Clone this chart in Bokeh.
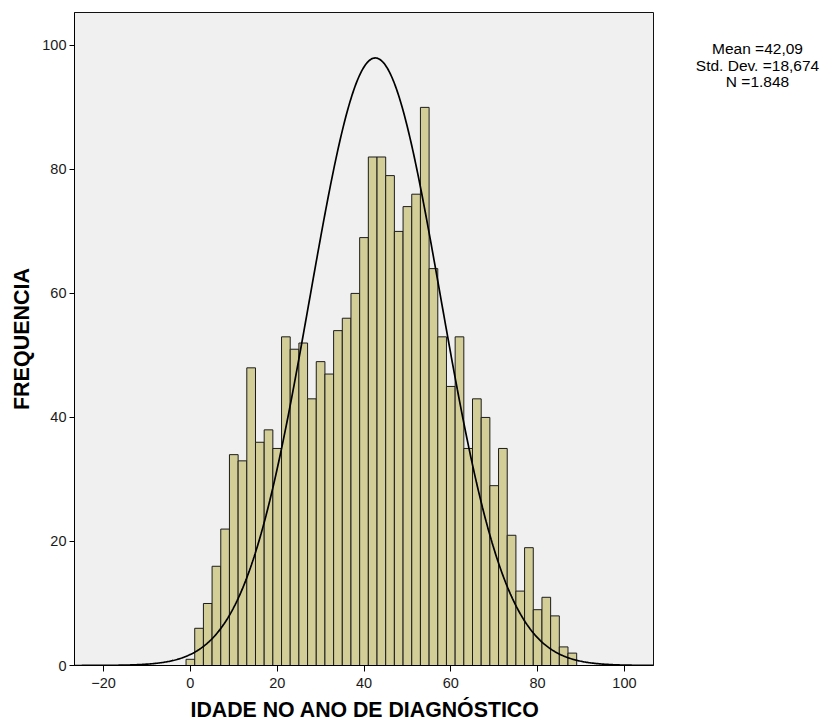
import numpy as np
from bokeh.plotting import figure
from bokeh.layouts import row
from bokeh.models import Range1d, FixedTicker, Title
from bokeh.core.properties import value
from bokeh.embed import file_html
from bokeh.resources import INLINE

# ---- data ----
bin_centers = [0, 2, 4, 6, 8, 10, 12, 14, 16, 18, 20, 22, 24, 26, 28, 30, 32, 34, 36, 38,
               40, 42, 44, 46, 48, 50, 52, 54, 56, 58, 60, 62, 64, 66, 68, 70, 72, 74, 76,
               78, 80, 82, 84, 86, 88]
counts = [1, 6, 10, 16, 22, 34, 33, 48, 36, 38, 35, 53, 51, 52, 43, 49, 47, 54, 56, 60,
          69, 82, 82, 79, 70, 74, 76, 90, 64, 53, 45, 53, 35, 43, 40, 29, 35, 21, 12,
          19, 9, 11, 8, 3, 2]
bin_width = 2.0
x_ticks = [-20, 0, 20, 40, 60, 80, 100]
y_ticks = [0, 20, 40, 60, 80, 100]
stats_lines = ["Mean =42,09", "Std. Dev. =18,674", "N =1.848"]
x_title = "IDADE NO ANO DE DIAGNÓSTICO"
y_title = "FREQUENCIA"
# normal curve as drawn in the picture (centre and spread)
curve_mean = 42.6
curve_sd = 15.05
n_total = sum(counts)

y_rng = Range1d(0, 105.3)
p = figure(width=660, height=727, output_backend="svg", toolbar_location=None,
           x_range=Range1d(-26.7, 106.7), y_range=y_rng,
           min_border_left=74, min_border_right=7, min_border_top=12, min_border_bottom=62)
p.background_fill_color = "#F0F0F0"
p.border_fill_color = "white"
p.outline_line_color = "#111111"
p.outline_line_width = 1
p.grid.visible = False

lefts = [c - bin_width / 2 for c in bin_centers]
rights = [c + bin_width / 2 for c in bin_centers]
p.quad(left=lefts, right=rights, bottom=0, top=counts,
       fill_color="#D3CE98", line_color="#1c1c1c", line_width=1)

xs = np.linspace(-26.7, 106.7, 600)
ys = n_total * bin_width / (curve_sd * np.sqrt(2 * np.pi)) * np.exp(-0.5 * ((xs - curve_mean) / curve_sd) ** 2)
p.line(xs, ys, line_color="black", line_width=1.7)

p.xaxis.ticker = FixedTicker(ticks=x_ticks)
p.yaxis.ticker = FixedTicker(ticks=y_ticks)
for ax in (p.xaxis, p.yaxis):
    ax.minor_tick_line_color = None
    ax.major_tick_in = 0
    ax.major_tick_line_color = "black"
    ax.axis_line_color = "black"
    ax.major_label_text_font = "Liberation Sans"
    ax.major_label_text_font_size = "14.5px"
    ax.major_label_text_color = "#1a1a1a"

p.xaxis.major_tick_out = 6
p.xaxis.major_label_standoff = 6

p.yaxis.major_tick_out = 5
p.yaxis.major_label_standoff = 3
p.yaxis.axis_label = y_title
p.yaxis.axis_label_standoff = 5
p.yaxis.axis_label_text_font = "Liberation Sans"
p.yaxis.axis_label_text_font_style = "bold"
p.yaxis.axis_label_text_font_size = "21.5px"
p.yaxis.axis_label_text_color = "black"

# x-axis title as a left-aligned title below, shifted to where the reference places it
p.add_layout(Title(text=x_title, align="left", offset=116, standoff=10,
                   text_font="Liberation Sans", text_font_style="bold",
                   text_font_size="21.3px", text_color="black"), "below")

# side panel holding the summary statistics text (shares the vertical scale)
s = figure(width=162, height=727, output_backend="svg", toolbar_location=None,
           x_range=Range1d(0, 162), y_range=y_rng,
           min_border_left=0, min_border_right=0, min_border_top=12, min_border_bottom=62,
           outline_line_color=None)
s.axis.visible = False
s.grid.visible = False
s.background_fill_color = "white"
s.border_fill_color = "white"
stat_x = [97, 97, 97]
stat_y = [99.48, 96.80, 94.15]
s.text(x=stat_x, y=stat_y, text=stats_lines, text_align="center", text_baseline="alphabetic",
       text_font=value("Liberation Sans"), text_font_size="15.5px", text_color="black")

layout = row(p, s, spacing=0)
open("out.html", "w").write(file_html(layout, INLINE))
